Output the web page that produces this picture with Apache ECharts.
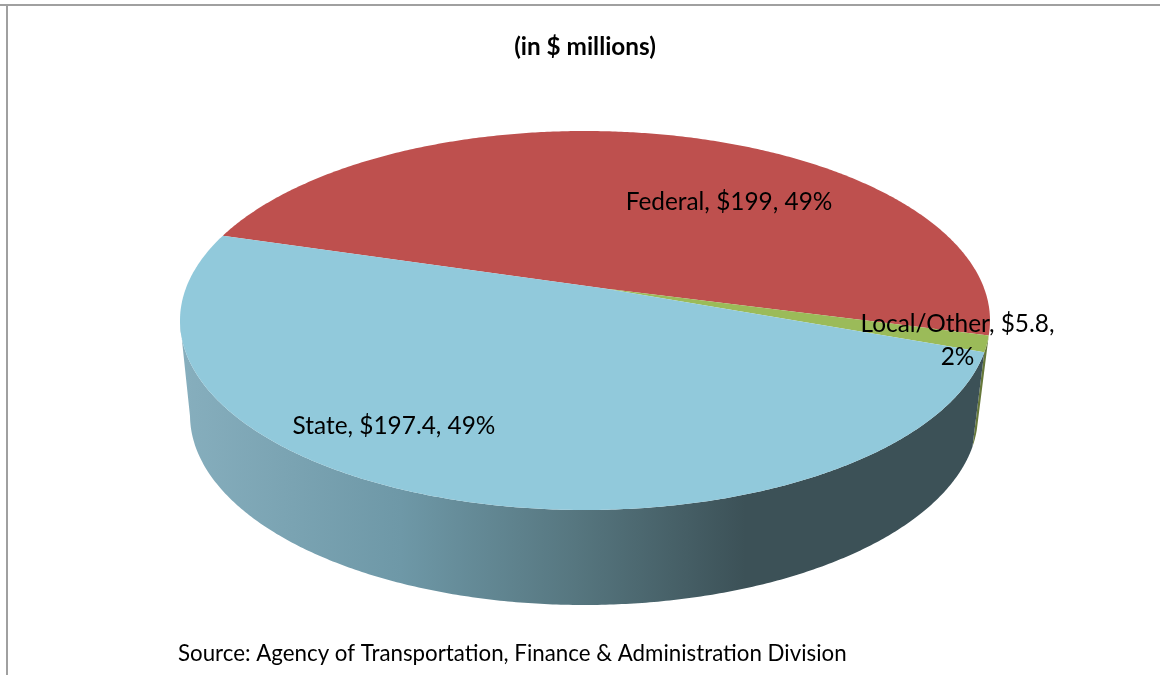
<!DOCTYPE html>
<html>
<head>
<meta charset="utf-8">
<style>html,body{margin:0;padding:0;background:#fff}#c{width:1160px;height:675px}</style>
<script src="https://cdn.jsdelivr.net/npm/echarts@6/dist/echarts.min.js"></script>
</head>
<body>
<div id="c"></div>
<script>
// ---- data ----
var categories = ['Federal', 'Local/Other', 'State'];
var amounts = [199, 5.8, 197.4];
var percentLabels = ['49%', '2%', '49%'];
var titleText = '(in $ millions)';
var sourceText = 'Source: Agency of Transportation, Finance & Administration Division';

// ---- geometry and style ----
var FONT = 'Lato, "Open Sans", sans-serif';
var TOP = {cx: 585, cy: 320.5, rx: 405, ry: 189.5};
var BOTTOM = {cx: 584, cy: 415, rx: 394, ry: 190};
var PERSPECTIVE = [0.044, -0.17];
var START_DEG = 196.5;
var faceColors = ['#BE504E', '#9BBB59', '#91C9DB'];
var labelAnchors = [
  {x: 729, y: 202},
  {x: 957.5, y: 341},
  {x: 394, y: 426}
];

function project(e, deg) {
  var t = deg * Math.PI / 180, px = Math.cos(t), py = Math.sin(t);
  var ax = PERSPECTIVE[0], ay = PERSPECTIVE[1];
  var g = 1 / Math.sqrt(1 - ax * ax - ay * ay);
  var d = ax * px + ay * py, f = g / (1 + g) * d;
  return [
    e.cx + e.rx * (ax + px / g + f * ax) / (1 + d),
    e.cy + e.ry * (ay + py / g + f * ay) / (1 + d)
  ];
}
var total = amounts.reduce(function (a, b) { return a + b; }, 0);
function sliceRange(i) {
  var s = START_DEG;
  for (var k = 0; k < i; k++) s += amounts[k] / total * 360;
  return [s, s + amounts[i] / total * 360];
}
function arc(e, a, b) {
  var n = Math.max(2, Math.ceil((b - a) * 2)), out = [];
  for (var k = 0; k <= n; k++) out.push(project(e, a + (b - a) * k / n));
  return out;
}
var sideFill = function () {
  return new echarts.graphic.LinearGradient(185, 0, 985, 0, [
    {offset: 0, color: '#86AEBD'},
    {offset: 0.27, color: '#6E98A7'},
    {offset: 0.49, color: '#56767F'},
    {offset: 0.70, color: '#3C5157'},
    {offset: 1, color: '#3C5157'}
  ], true);
};
var rows = categories.map(function (c, i) { return [i, amounts[i]]; });

var option = {
  animation: false,
  backgroundColor: '#fff',
  title: {
    text: titleText, left: 580, top: 30, textAlign: 'center',
    textStyle: {fontFamily: FONT, fontSize: 24.3, fontWeight: 'bold', color: '#000'}
  },
  graphic: [
    {type: 'rect', shape: {x: 0, y: 4, width: 1160, height: 2}, style: {fill: '#A0A0A0'}},
    {type: 'rect', shape: {x: 6, y: 4, width: 2, height: 671}, style: {fill: '#A0A0A0'}},
    {type: 'text', x: 178, y: 654, style: {text: sourceText, fontFamily: FONT, fontSize: 22.3, fill: '#000', verticalAlign: 'middle'}}
  ],
  series: [
    {
      type: 'custom', coordinateSystem: 'none', z: 1, silent: true, data: rows,
      renderItem: function (p, api) {
        var i = api.value(0), r = sliceRange(i);
        var mid = project(TOP, (r[0] + r[1]) / 2);
        if (mid[1] < TOP.cy) return {type: 'group', children: []};
        var up = arc(TOP, r[0], r[1]).filter(function (q) { return q[1] >= TOP.cy; });
        var low = arc(BOTTOM, r[0], r[1]).filter(function (q) { return q[1] >= BOTTOM.cy; });
        return {
          type: 'polygon',
          shape: {points: up.concat(low.reverse())},
          style: {fill: categories[i] === 'State' ? sideFill() : '#66783A'}
        };
      }
    },
    {
      type: 'custom', coordinateSystem: 'none', z: 2, silent: true, data: rows,
      renderItem: function (p, api) {
        var i = api.value(0), r = sliceRange(i);
        var a = PERSPECTIVE;
        var apex = [TOP.cx + TOP.rx * a[0], TOP.cy + TOP.ry * a[1]];
        return {
          type: 'polygon',
          shape: {points: [apex].concat(arc(TOP, r[0], r[1]))},
          style: {fill: faceColors[i]}
        };
      }
    },
    {
      type: 'custom', coordinateSystem: 'none', z: 3, silent: true, data: rows,
      renderItem: function (p, api) {
        var i = api.value(0), pos = labelAnchors[i];
        var text = categories[i] + ', $' + amounts[i] + ', ' + percentLabels[i];
        if (categories[i] === 'Local/Other') text = categories[i] + ', $' + amounts[i] + ',\n' + percentLabels[i];
        return {
          type: 'text', x: pos.x, y: pos.y,
          style: {
            text: text, fontFamily: FONT, fontSize: 24.4, fill: '#000',
            align: 'center', verticalAlign: 'middle', lineHeight: 33
          }
        };
      }
    }
  ]
};
var chart = echarts.init(document.getElementById('c'), null, {renderer: 'canvas'});
chart.setOption(option);
</script>
</body>
</html>
